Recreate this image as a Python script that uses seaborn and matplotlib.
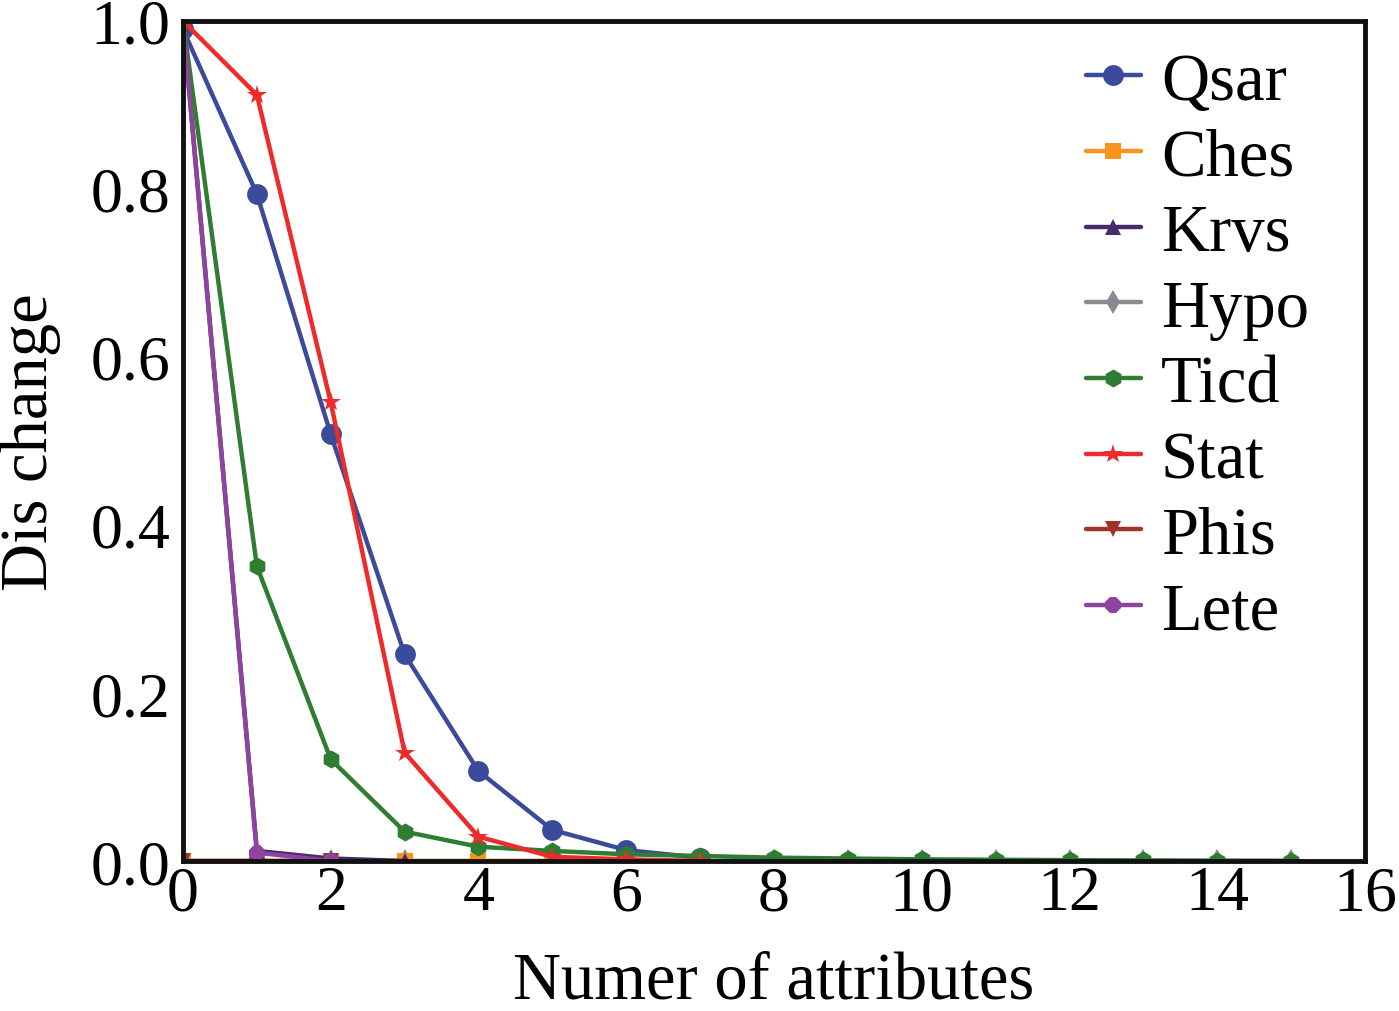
import numpy as np
import pandas as pd
import matplotlib
matplotlib.use("Agg")
import matplotlib.pyplot as plt
import seaborn as sns

sns.set_theme(style="white")
plt.rcParams['font.family'] = ['Liberation Serif', 'DejaVu Serif']
plt.rcParams['text.color'] = 'black'
plt.rcParams['axes.labelcolor'] = 'black'
plt.rcParams['xtick.color'] = 'black'
plt.rcParams['ytick.color'] = 'black'

names = ["Qsar", "Ches", "Krvs", "Hypo", "Ticd", "Stat", "Phis", "Lete"]
colors = ["#3b4a9b", "#f7941d", "#4a2a6a", "#8a8a92", "#2e7d32", "#ee2b2b", "#a3312b", "#8e449f"]
markers = ["o", "s", "^", "d", "h", "*", "v", "8"]
msizes = [15, 12, 12, 12, 13, 15, 12, 12]

qsar = [0.99, 0.794, 0.508, 0.246, 0.107, 0.037, 0.013, 0.004]
ches = [0.0, 0.0, 0.0, 0.0, 0.0, 0.0, 0.0, 0.0]
krvs = [1.0, 0.012, 0.003, 0.0]
hypo = [0.0] * 16
ticd = [1.0, 0.351, 0.121, 0.035, 0.017, 0.012, 0.008, 0.006, 0.004, 0.003, 0.002, 0.0015, 0.001, 0.0007, 0.0004, 0.0002]
stat = [1.0, 0.912, 0.546, 0.129, 0.029, 0.005, 0.002, 0.0]
phis = [0.0, 0.0, 0.0]
lete = [1.0, 0.01, 0.0]
series = [qsar, ches, krvs, hypo, ticd, stat, phis, lete]

fig = plt.figure(figsize=(13.99, 10.12), dpi=100)
ax = fig.add_axes([0.1308, 0.1482, 0.8449, 0.8301])

order = [3, 1, 6, 2, 0, 4, 7, 5]
for i in order:
    vals = series[i]
    df = pd.DataFrame({"x": np.arange(len(vals)), "y": vals})
    sns.lineplot(data=df, x="x", y="y", ax=ax, color=colors[i], marker=markers[i],
                 markersize=msizes[i], markeredgewidth=0, linewidth=3.2, label=names[i])

ax.set_xlim(0, 16)
ax.set_ylim(0, 1.0)
ax.set_xticks(np.arange(0, 17, 2))
ax.set_yticks(np.arange(0, 1.01, 0.2))
ax.set_yticklabels([f"{v:.1f}" for v in np.arange(0, 1.01, 0.2)])
ax.tick_params(direction="in", length=11, width=3, labelsize=46)
ax.tick_params(axis="x", pad=3)
ax.tick_params(axis="y", pad=9)
for s in ax.spines.values():
    s.set_linewidth(3.5)
    s.set_color("#111111")
ax.set_xlabel("Numer of attributes", fontsize=48, labelpad=20)
ax.set_ylabel("Dis change", fontsize=48)
ax.yaxis.set_label_coords(-0.103, 0.5)

h, l = ax.get_legend_handles_labels()
lookup = dict(zip(l, h))
ax.legend([lookup[n] for n in names], names, loc="upper right", frameon=False,
          fontsize=48, handlelength=0.82, labelspacing=0.22, handletextpad=0.3,
          borderaxespad=0.0, bbox_to_anchor=(0.975, 0.995))

fig.savefig("out.png", dpi=100)
